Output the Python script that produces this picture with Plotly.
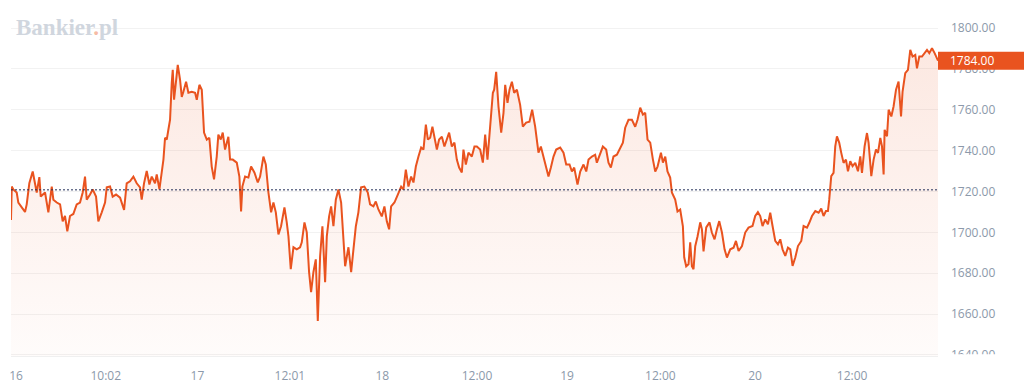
import plotly.graph_objects as go

# time axis: hours since the start of the 5-day window (16..20)
hours = [
    0.0, 0.1, 0.3, 0.74, 0.95, 1.39, 1.82, 2.04, 2.38, 2.82, 3.12, 3.34, 3.68, 3.86, 4.42, 4.85,
    5.29, 5.5, 5.94, 6.37, 6.71, 7.01, 7.31, 7.66, 8.09, 8.53, 8.96, 9.31, 9.61, 9.83, 10.26, 10.61,
    11.04, 11.34, 11.78, 12.21, 12.43, 12.86, 13.2, 13.64, 14.16, 14.68, 15.02, 15.45, 15.89, 16.32,
    16.75, 16.97, 17.27, 17.62, 17.97, 18.27, 18.7, 18.92, 19.27, 19.57, 19.79, 20.0, 20.22, 20.43,
    20.65, 20.87, 21.0, 21.17, 21.43, 21.65, 21.95, 22.17, 22.38, 22.73, 23.03, 23.47, 23.9, 24.12,
    24.46, 24.77, 25.06, 25.42, 25.75, 26.06, 26.36, 26.71, 26.92, 27.23, 27.49, 27.79, 28.22, 28.44,
    28.79, 29.31, 29.65,
    29.87, 30.04, 30.39, 30.82, 31.17, 31.6, 32.04, 32.34, 32.77, 33.08, 33.42, 33.77, 34.07, 34.38,
    34.72, 35.06, 35.5, 35.8, 36.02, 36.32, 36.67, 37.1, 37.53, 37.75, 38.1, 38.4, 38.7, 38.96,
    39.26, 39.57, 39.83, 40.13, 40.43, 40.78, 41.0, 41.3, 41.56, 41.86, 42.17, 42.51, 42.86, 43.16,
    43.38, 43.81, 44.16, 44.46, 44.77, 45.1, 45.45, 45.88, 46.32, 46.62, 47.05, 47.36, 47.7, 48.14,
    48.48, 48.79, 49.09, 49.35, 49.78, 50.22, 50.65, 50.95, 51.26, 51.6, 51.95, 52.25, 52.56, 52.9,
    53.25, 53.55, 53.86, 54.12, 54.42, 54.71, 54.97, 55.29, 55.58, 55.94, 56.27, 56.58, 56.88, 57.23,
    57.57, 57.88, 58.18, 58.53, 58.74, 59.05, 59.39, 59.83, 60.17,
    60.48, 60.91, 61.26, 61.56, 61.86, 62.21, 62.56, 62.73, 62.99, 63.29, 63.64, 63.94, 64.16, 64.46,
    64.72, 65.03, 65.32, 65.68, 66.1, 66.45, 66.88, 67.31, 67.66, 68.05, 68.48, 68.79, 69.13, 69.48,
    69.78, 70.09, 70.43, 70.78, 71.3, 71.73, 72.08, 72.51, 72.82, 73.12, 73.55, 73.9, 74.33, 74.68,
    74.98, 75.42, 75.84, 76.06, 76.49, 76.84, 77.27, 77.57, 77.88, 78.22, 78.66, 79.0, 79.44, 79.74,
    80.17, 80.61, 81.04, 81.34, 81.69, 82.04, 82.34, 82.64, 82.99, 83.34, 83.64, 83.94, 84.38, 84.64,
    84.94, 85.23, 85.58, 85.8, 86.23, 86.53, 86.88, 87.23, 87.4, 87.66, 87.96, 88.18, 88.4, 88.61,
    88.83, 89.13, 89.48, 89.7, 89.91, 90.26, 90.69,
    90.99, 91.34, 91.65, 91.95, 92.3, 92.64, 92.95, 93.38, 93.81, 94.12, 94.46, 94.9, 95.32, 95.75,
    96.27, 96.62, 96.97, 97.27, 97.57, 97.92, 98.27, 98.57, 98.87, 99.22, 99.57, 99.87, 100.17, 100.52,
    100.87, 101.17, 101.47, 101.82, 102.17, 102.6, 102.9, 103.34, 103.64, 103.99, 104.42, 104.85,
    105.19, 105.49, 105.8, 106.06, 106.23, 106.49, 106.79, 107.01, 107.23, 107.53, 107.79, 108.09,
    108.4, 108.66, 108.96, 109.26, 109.61, 109.96, 110.26, 110.48, 110.82, 111.13, 111.34, 111.69,
    111.99, 112.3, 112.56, 112.86, 113.08, 113.29, 113.42, 113.73, 113.94, 114.29, 114.58, 114.9,
    115.23, 115.55, 115.75, 116.1, 116.45, 116.75, 117.05, 117.4, 117.62, 117.92, 118.27, 118.61,
    118.92, 119.22, 119.57, 119.91, 120.22, 120.35,
]

prices = [
    1706.0, 1722.4, 1721.0, 1719.5, 1714.6, 1712.0, 1710.0, 1713.7, 1724.0, 1729.8, 1724.0, 1719.5,
    1727.0, 1717.5, 1719.5, 1709.8, 1722.4, 1716.0, 1714.6, 1713.7, 1705.4, 1708.0, 1700.5, 1708.0,
    1709.0, 1713.7, 1714.6, 1719.5, 1727.3, 1716.0, 1718.5, 1721.0, 1717.5, 1705.4, 1709.8, 1714.6,
    1722.0, 1722.4, 1717.5, 1718.5, 1717.0, 1711.0, 1724.0, 1725.0, 1727.3, 1724.0, 1722.0, 1716.0,
    1724.0, 1730.0, 1723.4, 1727.3, 1724.0, 1728.3, 1721.0, 1728.3, 1735.6, 1746.3, 1745.4, 1750.2,
    1755.1, 1773.2, 1779.5, 1764.9, 1773.2, 1782.0, 1774.6, 1766.3, 1768.8, 1773.7, 1768.3, 1768.8,
    1768.3, 1764.9, 1772.2, 1769.8, 1748.8, 1745.4, 1746.3, 1732.2, 1725.9, 1737.1, 1747.8, 1745.4,
    1748.8, 1740.5, 1746.8, 1735.6, 1735.6, 1734.1, 1727.3,
    1710.2, 1722.4, 1727.3, 1726.8, 1732.2, 1729.3, 1724.4, 1727.3, 1737.1, 1733.2, 1719.5, 1709.8,
    1714.6, 1709.8, 1699.0, 1703.0, 1712.2, 1704.9, 1698.0, 1682.0, 1692.7, 1691.7, 1692.7, 1695.1,
    1704.9, 1700.0, 1680.5, 1670.7, 1680.5, 1686.8, 1656.6, 1688.3, 1703.0, 1675.6, 1698.0, 1707.8,
    1712.7, 1703.0, 1716.0, 1721.0, 1714.6, 1696.6, 1683.4, 1692.7, 1680.5, 1691.7, 1703.0, 1709.8,
    1722.0, 1722.4, 1719.5, 1713.7, 1712.7, 1715.1, 1711.2, 1707.8, 1712.7, 1705.4, 1701.5, 1712.7,
    1714.6, 1718.5, 1722.4, 1721.0, 1730.7, 1722.4, 1727.3, 1724.4, 1732.2, 1737.1, 1741.5, 1740.5,
    1752.7, 1745.4, 1746.3, 1751.7, 1746.8, 1740.5, 1745.4, 1746.8, 1742.0, 1745.4, 1748.8, 1742.0,
    1743.9, 1735.6, 1731.7, 1729.3, 1740.5, 1733.2, 1739.0, 1737.1, 1742.0,
    1742.0, 1740.5, 1734.1, 1747.8, 1735.6, 1750.2, 1768.3, 1769.8, 1778.5, 1761.5, 1748.8, 1758.5,
    1772.2, 1763.4, 1769.8, 1773.7, 1768.3, 1769.8, 1762.4, 1751.7, 1753.7, 1754.1, 1760.0, 1751.7,
    1739.0, 1742.0, 1737.1, 1731.7, 1727.3, 1731.7, 1737.1, 1740.5, 1741.5, 1739.0, 1733.2, 1733.2,
    1729.8, 1731.7, 1723.4, 1729.8, 1733.2, 1729.8, 1735.6, 1737.1, 1738.0, 1734.1, 1738.0, 1742.0,
    1740.5, 1734.1, 1731.7, 1737.1, 1738.0, 1740.5, 1743.9, 1751.2, 1755.1, 1755.1, 1751.7, 1755.1,
    1761.0, 1757.6, 1758.5, 1745.4, 1743.9, 1735.6, 1729.8, 1732.2, 1739.0, 1734.1, 1737.1, 1729.8,
    1726.8, 1719.5, 1716.0, 1710.2, 1711.2, 1703.0, 1687.8, 1683.4, 1684.4, 1695.1, 1683.4, 1682.0,
    1693.2, 1698.0, 1704.9, 1701.5, 1690.7, 1702.4, 1704.9,
    1699.9, 1696.6, 1701.5, 1705.5, 1699.9, 1691.7, 1687.7, 1691.7, 1692.5, 1695.8, 1690.9, 1693.3,
    1699.9, 1702.3, 1703.1, 1708.0, 1709.9, 1708.0, 1703.1, 1706.3, 1703.9, 1709.6, 1703.1, 1695.8,
    1694.1, 1696.6, 1691.7, 1688.5, 1692.5, 1691.7, 1683.6, 1687.7, 1693.3, 1695.8, 1703.1, 1702.3,
    1704.7, 1708.0, 1710.4, 1709.6, 1711.6, 1708.0, 1710.4, 1710.4, 1716.1, 1727.5, 1729.1, 1742.1,
    1747.0, 1743.8, 1738.9, 1734.0, 1735.6, 1729.9, 1734.8, 1732.4, 1734.0, 1729.9, 1737.2, 1729.1,
    1742.1, 1748.6, 1743.8, 1727.5, 1735.6, 1740.5, 1738.9, 1746.2, 1742.1, 1728.3, 1750.2, 1747.0,
    1760.0, 1756.7, 1761.6, 1769.8, 1773.8, 1756.7, 1768.9, 1777.9, 1779.5, 1789.3, 1786.0, 1786.8,
    1780.3, 1786.0, 1786.0, 1787.7, 1789.3, 1787.7, 1790.1, 1787.7, 1785.2, 1784.0,
]

previous_close = 1720.8
last_price = 1784.0

x_tick_hours = [0.65, 12.3, 24.2, 36.2, 48.2, 60.5, 72.2, 84.3, 96.6, 109.2]
x_tick_labels = ["16", "10:02", "17", "12:01", "18", "12:00", "19", "12:00", "20", "12:00"]
y_ticks = [1640, 1660, 1680, 1700, 1720, 1740, 1760, 1780, 1800]

LINE = "#E9531F"
LABEL = "#8C99AA"
FONT = "Open Sans"

fig = go.Figure()
fig.add_trace(go.Scatter(
    x=hours, y=prices, mode="lines",
    line=dict(color=LINE, width=2),
    fill="tozeroy",
    fillgradient=dict(
        type="vertical", start=1639.5, stop=1800,
        colorscale=[[0, "rgba(233,83,31,0.02)"], [1, "rgba(233,83,31,0.14)"]],
    ),
    hoverinfo="skip", showlegend=False,
))

fig.update_layout(
    width=1024, height=390,
    margin=dict(l=11, r=86, t=0, b=34),
    paper_bgcolor="white", plot_bgcolor="white",
    font=dict(family=FONT, size=12, color=LABEL),
    xaxis=dict(
        range=[0, hours[-1]], showgrid=False, zeroline=False,
        tickmode="array", tickvals=x_tick_hours, ticktext=x_tick_labels,
        ticks="", ticklabelstandoff=9, showline=True, linecolor="#f0f0f0", linewidth=1,
        tickfont=dict(family=FONT, size=12, color=LABEL), fixedrange=True,
    ),
    yaxis=dict(
        side="right", range=[1639.5, 1813.7], tickmode="array", tickvals=y_ticks,
        tickformat=".2f", showgrid=True, gridcolor="#f2f2f2", gridwidth=1, zeroline=False,
        ticks="", ticklabelstandoff=12, showline=False,
        tickfont=dict(family=FONT, size=12, color=LABEL), fixedrange=True,
    ),
)

# previous close dotted line
fig.add_shape(type="line", xref="paper", x0=0, x1=1, yref="y", y0=previous_close, y1=previous_close,
              line=dict(color="#1E2A55", width=1, dash="2px,2px"), layer="above")

# clip the bottom price label as in the original
fig.add_shape(type="rect", xref="paper", x0=1.001, x1=1.2, yref="paper", y0=-0.2, y1=0.005,
              fillcolor="white", line=dict(width=0), layer="above")

# last price tag
fig.add_shape(type="rect", xref="paper", x0=1.0, x1=1.1, yref="y", y0=last_price - 4.4, y1=last_price + 4.4,
              fillcolor=LINE, line=dict(width=0), layer="above")
fig.add_annotation(xref="paper", x=1, xanchor="left", xshift=10, yref="y", y=last_price, yanchor="middle",
                   text=f"{last_price:.2f}", showarrow=False,
                   font=dict(family=FONT, size=12, color="white"))

# logo
fig.add_annotation(xref="paper", x=0, xanchor="left", xshift=3, yref="y", y=1800.3, yanchor="middle",
                   text="<b>Bankier<span style='color:#F6BBA5'>.</span>pl</b>", showarrow=False,
                   font=dict(family="Liberation Serif", size=23, color="#D0D6DE"))

fig.write_html("out.html", config={"displayModeBar": False},
               post_script="document.body.style.margin='0';")
